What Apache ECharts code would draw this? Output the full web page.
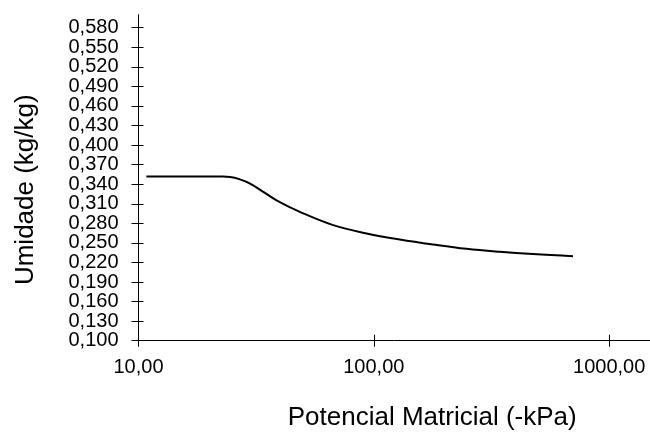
<!DOCTYPE html>
<html>
<head>
<meta charset="utf-8">
<script src="https://cdn.jsdelivr.net/npm/echarts@6/dist/echarts.min.js"></script>
<style>html,body{margin:0;padding:0;background:#fff}#c{width:650px;height:432px}</style>
</head>
<body>
<div id="c"></div>
<script>
// Data
const potencial = [10.8, 18.2, 22.5, 24.5, 27, 29.8, 33.5, 38.6, 48.5, 67.2, 93.1, 128.9, 178.6, 247.5, 342.8, 474.8, 702];
const umidade   = [0.352, 0.352, 0.3518, 0.3512, 0.3475, 0.341, 0.3295, 0.3153, 0.2976, 0.2772, 0.2645, 0.2553, 0.2476, 0.2409, 0.2363, 0.2328, 0.2297];
const xTicks = [10, 100, 1000];
const yTicks = [0.100, 0.130, 0.160, 0.190, 0.220, 0.250, 0.280, 0.310, 0.340, 0.370, 0.400, 0.430, 0.460, 0.490, 0.520, 0.550, 0.580];

// labels split over two overlapping axes so that ECharts does not drop any of them
const yLabelsA = yTicks.filter((v, i) => i % 2 === 0);
const yLabelsB = yTicks.filter((v, i) => i % 2 === 1);

const FONT = 'Liberation Sans, Arial, Helvetica, sans-serif';
const fmt = (d) => (v) => Number(v).toFixed(d).replace('.', ',');

const chart = echarts.init(document.getElementById('c'), null, {renderer: 'canvas'});
const baseX = {
  type: 'log', logBase: 10, min: 10, max: 2000, gridIndex: 0,
  splitLine: {show: false}, minorTick: {show: false}
};
const baseY = {
  type: 'value', min: 0.1, max: 0.6, gridIndex: 0,
  splitLine: {show: false}
};
const yLabelStyle = {show: true, margin: 20, color: '#000', fontFamily: FONT, fontSize: 20, formatter: fmt(3),
                     showMinLabel: true, showMaxLabel: true, hideOverlap: false};
chart.setOption({
  animation: false,
  backgroundColor: '#ffffff',
  grid: {left: 138.5, right: -30, top: 14.7, bottom: 91.3, containLabel: false, outerBoundsMode: 'none'},
  xAxis: [
    Object.assign({}, baseX, {
      position: 'bottom',
      axisLine: {show: true, lineStyle: {color: '#000', width: 1}},
      axisTick: {show: true, inside: false, length: 6, lineStyle: {color: '#000'}, customValues: xTicks},
      axisLabel: {show: true, margin: 17, color: '#000', fontFamily: FONT, fontSize: 20, formatter: fmt(2),
                  customValues: xTicks, showMinLabel: true, showMaxLabel: true, hideOverlap: false},
      name: 'Potencial Matricial (-kPa)', nameLocation: 'middle', nameGap: 64,
      nameTextStyle: {color: '#000', fontFamily: FONT, fontSize: 26, padding: [0, 0, 0, 46]}
    }),
    Object.assign({}, baseX, {
      position: 'bottom',
      axisLine: {show: false},
      axisTick: {show: true, inside: true, length: 6, lineStyle: {color: '#000'}, customValues: xTicks},
      axisLabel: {show: false}
    })
  ],
  yAxis: [
    Object.assign({}, baseY, {
      position: 'left',
      axisLine: {show: true, lineStyle: {color: '#000', width: 1}},
      axisTick: {show: true, inside: false, length: 7, lineStyle: {color: '#000'}, customValues: yTicks},
      axisLabel: Object.assign({}, yLabelStyle, {customValues: yLabelsA}),
      name: 'Umidade (kg/kg)', nameLocation: 'middle', nameGap: 100, nameRotate: 90,
      nameTextStyle: {color: '#000', fontFamily: FONT, fontSize: 26, padding: [0, 24, 0, 0]}
    }),
    Object.assign({}, baseY, {
      position: 'left',
      axisLine: {show: false},
      axisTick: {show: true, inside: true, length: 5, lineStyle: {color: '#000'}, customValues: yTicks},
      axisLabel: Object.assign({}, yLabelStyle, {customValues: yLabelsB})
    })
  ],
  series: [{
    type: 'line',
    xAxisIndex: 0, yAxisIndex: 0,
    data: potencial.map((x, i) => [x, umidade[i]]),
    smooth: 0.4,
    showSymbol: false,
    symbol: 'none',
    lineStyle: {color: '#000', width: 2},
    clip: true
  }]
});
</script>
</body>
</html>
